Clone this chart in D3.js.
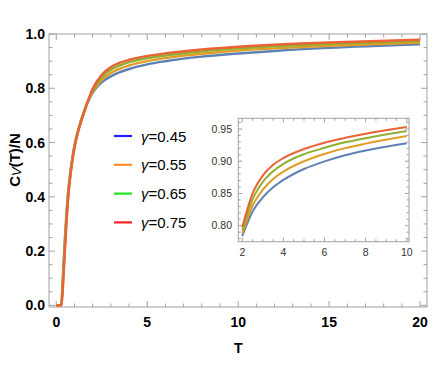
<!DOCTYPE html>
<html lang="en">
<head>
  <meta charset="UTF-8">
  <title>Cv(T)/N</title>
  <style>
    body { margin: 0; background: #fff; }
    text { font-family: "Liberation Sans", Arial, sans-serif; }
  </style>
</head>
<body>
  <div id="main"></div>
  <script src="https://d3js.org/d3.v7.min.js"></script>
  <script>
  // data
  const temps  = [0, 0.1, 0.2, 0.28, 0.35, 0.45, 0.55, 0.65, 0.75, 0.9, 1.0, 1.2, 1.5, 1.75, 2, 2.5, 3, 3.5, 4, 5, 6, 7, 8, 10, 12, 15, 20]
  const cv045  = [0, 0, 0, 0.005, 0.09, 0.22, 0.33, 0.42, 0.48, 0.55, 0.59, 0.645, 0.71, 0.752, 0.784, 0.822, 0.844, 0.8595, 0.871, 0.888, 0.8998, 0.9093, 0.9168, 0.928, 0.9376, 0.9487, 0.9617]
  const cv055  = [0, 0, 0, 0.003, 0.077, 0.203, 0.317, 0.41, 0.473, 0.547, 0.587, 0.643, 0.708, 0.753, 0.788, 0.831, 0.856, 0.8725, 0.884, 0.900, 0.9113, 0.9203, 0.9273, 0.939, 0.9471, 0.9567, 0.9687]
  const cv065  = [0, 0, 0, 0.002, 0.063, 0.187, 0.303, 0.40, 0.467, 0.543, 0.583, 0.642, 0.706, 0.754, 0.793, 0.841, 0.868, 0.8845, 0.896, 0.911, 0.9208, 0.9293, 0.9358, 0.947, 0.9546, 0.9637, 0.9737]
  const cv075  = [0, 0, 0, 0, 0.05, 0.17, 0.29, 0.39, 0.46, 0.54, 0.58, 0.64, 0.705, 0.755, 0.798, 0.850, 0.878, 0.8945, 0.905, 0.919, 0.9288, 0.9363, 0.9428, 0.953, 0.9606, 0.9687, 0.9787]
  const gammas = ["0.45", "0.55", "0.65", "0.75"]

  const xTicks = [0, 5, 10, 15, 20]
  const yTicks = [0, 0.2, 0.4, 0.6, 0.8, 1.0]
  const insetXTicks = [2, 4, 6, 8, 10]
  const insetYTicks = [0.80, 0.85, 0.90, 0.95]

  const series = [cv045, cv055, cv065, cv075]
  const lineColors = ["#5E81B5", "#E19C24", "#8FB032", "#EB6235"]
  const legendColors = ["#1f1fff", "#ff8c26", "#1ee61e", "#ff2020"]
  const frameColor = "#a0a0a0"

  let svg = d3.select('#main').append('svg')
    .attr('width', 436)
    .attr('height', 382)

  // main scales
  let x = d3.scaleLinear().domain([-0.4, 20.38]).range([49, 427])
  let y = d3.scaleLinear().domain([-0.006, 1.0]).range([307, 34])

  // inset scales
  let ix = d3.scaleLinear().domain([1.805, 10.11]).range([238.3, 409])
  let iy = d3.scaleLinear().domain([0.7752, 0.9666]).range([241.7, 118.3])

  // frame with ticks on all four sides (ticks point inwards)
  function drawFrame(sx, sy, major, minorX, minorY, big, small) {
    let [x0, x1] = sx.range()
    let [y0, y1] = sy.range()
    let g = svg.append('g')
    g.append('rect')
      .attr('x', x0).attr('y', y1)
      .attr('width', x1 - x0).attr('height', y0 - y1)
      .attr('fill', 'none')
      .attr('stroke', frameColor)
      .attr('stroke-width', 1)
    minorX.forEach(t => {
      let len = major.x.includes(t) ? big : small
      g.append('line').attr('x1', sx(t)).attr('x2', sx(t)).attr('y1', y0).attr('y2', y0 - len)
        .attr('stroke', frameColor)
      g.append('line').attr('x1', sx(t)).attr('x2', sx(t)).attr('y1', y1).attr('y2', y1 + len)
        .attr('stroke', frameColor)
    })
    minorY.forEach(t => {
      let len = major.y.some(m => Math.abs(m - t) < 1e-9) ? big : small
      g.append('line').attr('x1', x0).attr('x2', x0 + len).attr('y1', sy(t)).attr('y2', sy(t))
        .attr('stroke', frameColor)
      g.append('line').attr('x1', x1).attr('x2', x1 - len).attr('y1', sy(t)).attr('y2', sy(t))
        .attr('stroke', frameColor)
    })
  }

  function drawMainAxes() {
    let minorX = d3.range(0, 21, 1)
    let minorY = d3.range(0, 1.0001, 0.05).map(v => +v.toFixed(2))
    drawFrame(x, y, { x: xTicks, y: yTicks }, minorX, minorY, 6, 3.5)

    svg.append('g').selectAll('text').data(yTicks).join('text')
      .attr('x', 45)
      .attr('y', d => y(d))
      .attr('dy', '0.36em')
      .attr('text-anchor', 'end')
      .attr('font-size', 14)
      .attr('font-weight', 'bold')
      .text(d => d.toFixed(1))

    svg.append('g').selectAll('text').data(xTicks).join('text')
      .attr('x', d => x(d))
      .attr('y', 327)
      .attr('text-anchor', 'middle')
      .attr('font-size', 14)
      .attr('font-weight', 'bold')
      .text(d => d)

    svg.append('text')
      .attr('x', x(10))
      .attr('y', 353)
      .attr('text-anchor', 'middle')
      .attr('font-size', 14)
      .attr('font-weight', 'bold')
      .text('T')

    let lab = svg.append('text')
      .attr('transform', 'translate(20,160) rotate(-90)')
      .attr('text-anchor', 'middle')
      .attr('font-size', 15)
      .attr('font-weight', 'bold')
    lab.append('tspan').text('C')
    lab.append('tspan').attr('font-style', 'italic').attr('font-size', 13).attr('font-weight', 'normal').attr('dy', 1).text('V')
    lab.append('tspan').attr('dy', -1).text('(T)/N')
  }

  function drawCurves() {
    let line = d3.line()
      .x(d => x(d[0]))
      .y(d => y(d[1]))
      .curve(d3.curveMonotoneX)
    series.forEach((vals, i) => {
      svg.append('path')
        .attr('d', line(temps.map((t, k) => [t, vals[k]])))
        .attr('fill', 'none')
        .attr('stroke', lineColors[i])
        .attr('stroke-width', 2.4)
    })
  }

  function drawLegend() {
    gammas.forEach((g, i) => {
      let yy = 136 + i * 28.8
      svg.append('line')
        .attr('x1', 114).attr('x2', 132)
        .attr('y1', yy).attr('y2', yy)
        .attr('stroke', legendColors[i])
        .attr('stroke-width', 2.2)
      let t = svg.append('text')
        .attr('x', 141).attr('y', yy + 5.5)
        .attr('font-size', 15)
      t.append('tspan').attr('font-style', 'italic').text('γ')
      t.append('tspan').text('=' + g)
    })
  }

  function drawInset() {
    svg.append('rect')
      .attr('x', 238.3).attr('y', 118.3)
      .attr('width', 409 - 238.3).attr('height', 241.7 - 118.3)
      .attr('fill', '#fff')
    let minorX = d3.range(2, 10.01, 0.5).map(v => +v.toFixed(1))
    let minorY = d3.range(0.78, 0.9601, 0.01).map(v => +v.toFixed(2))
    drawFrame(ix, iy, { x: insetXTicks, y: insetYTicks }, minorX, minorY, 4, 2.5)

    svg.append('g').selectAll('text').data(insetYTicks).join('text')
      .attr('x', 232)
      .attr('y', d => iy(d))
      .attr('dy', '0.35em')
      .attr('text-anchor', 'end')
      .attr('font-size', 10.5)
      .attr('fill', '#333')
      .text(d => d.toFixed(2))

    svg.append('g').selectAll('text').data(insetXTicks).join('text')
      .attr('x', d => ix(d))
      .attr('y', 255.5)
      .attr('text-anchor', 'middle')
      .attr('font-size', 10.5)
      .attr('fill', '#333')
      .text(d => d)

    let line = d3.line()
      .x(d => ix(d[0]))
      .y(d => iy(d[1]))
      .curve(d3.curveMonotoneX)
    series.forEach((vals, i) => {
      let pts = temps.map((t, k) => [t, vals[k]]).filter(d => d[0] >= 2 && d[0] <= 10)
      svg.append('path')
        .attr('d', line(pts))
        .attr('fill', 'none')
        .attr('stroke', lineColors[i])
        .attr('stroke-width', 2)
    })
  }

  function main() {
    drawMainAxes()
    drawCurves()
    drawLegend()
    drawInset()
  }

  main()
  </script>
</body>
</html>
